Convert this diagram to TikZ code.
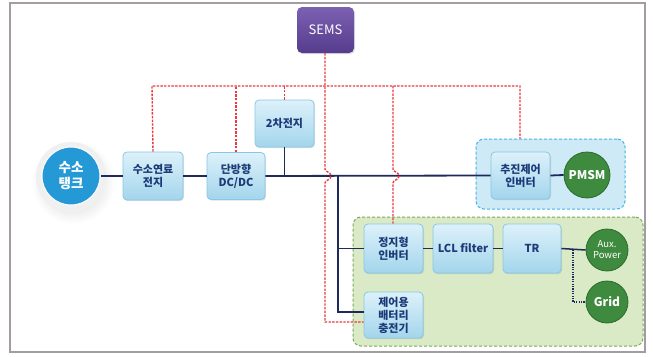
\documentclass[tikz,border=0pt]{standalone}
\usepackage{fontspec}
\newfontfamily\kr{Noto Sans CJK KR}
\usetikzlibrary{shadows}
\definecolor{navy}{HTML}{1F2A5C}
\definecolor{ctrlred}{HTML}{EC3A40}
\definecolor{boxtop}{HTML}{DDF1FA}
\definecolor{boxbot}{HTML}{A3D5EC}
\definecolor{boxedge}{HTML}{86C8E6}
\definecolor{txtblue}{HTML}{1B3A78}
\definecolor{tankblue}{HTML}{2598D6}
\definecolor{motgreen}{HTML}{3E8A3E}
\definecolor{motedge}{HTML}{2C6B2C}
\definecolor{propfill}{HTML}{CDEAF6}
\definecolor{propedge}{HTML}{3FB4E6}
\definecolor{gridfill}{HTML}{DAEAC6}
\definecolor{gridedge}{HTML}{78A95A}
\definecolor{framegray}{HTML}{A39DA3}
\definecolor{semstop}{HTML}{7C60B2}
\definecolor{semsbot}{HTML}{563C8C}
\tikzset{
  boxnode/.style={rounded corners=4pt, draw=boxedge, line width=0.8pt,
    top color=boxtop, bottom color=boxbot, text=txtblue, align=center,
    inner sep=0pt, font=\kr\bfseries\fontsize{11}{13}\selectfont,
    drop shadow={opacity=0.25, shadow xshift=1pt, shadow yshift=-1.2pt}},
  motor/.style={circle, fill=motgreen, draw=motedge, line width=0.8pt, text=white,
    align=center, inner sep=0pt, font=\kr\bfseries\fontsize{12}{13}\selectfont},
  bus/.style={draw=navy, line width=1.8pt},
  ctrl/.style={draw=ctrlred, line width=1.4pt, dash pattern=on 2.4pt off 1.3pt},
  region/.style={rounded corners=8pt, line width=1pt, dash pattern=on 3pt off 2pt}
}
\begin{document}
\begin{tikzpicture}[x=1pt,y=-1pt]
\useasboundingbox (0,0) rectangle (653,356);
\fill[white] (0,0) rectangle (653,356);
\draw[framegray, line width=1.5pt] (10,3) rectangle (645,352);

% regions
\node[region, draw=propedge, fill=propfill, minimum width=149pt, minimum height=70pt] (prop) at (550.5,174) {};
\node[region, draw=gridedge, fill=gridfill, minimum width=290pt, minimum height=129pt] (acgrid) at (498,281.5) {};

% tank halo and tank
\shade[inner color=gray!45, outer color=white] (73,182) circle (42);
\fill[gray!12] (71,177) circle (35);
\node[circle, fill=tankblue, draw=white, line width=1pt, minimum size=58pt, inner sep=0pt,
  text=white, align=center, font=\kr\bfseries\fontsize{13.5}{16}\selectfont] (tank) at (71,176) {수소\\탱크};

% boxes
\node[boxnode, minimum width=60pt, minimum height=48pt] (fc) at (153,176) {수소연료\\전지};
\node[boxnode, minimum width=58pt, minimum height=47pt] (dcdc) at (236,176) {단방향\\DC/DC};
\node[boxnode, minimum width=59pt, minimum height=47pt] (batt) at (284.5,123.5) {2차전지};
\node[boxnode, minimum width=59pt, minimum height=47pt] (inv) at (520.5,175.5) {추진제어\\인버터};
\node[boxnode, minimum width=59pt, minimum height=49pt] (sinv) at (393.5,248.5) {정지형\\인버터};
\node[boxnode, minimum width=60pt, minimum height=49pt] (lcl) at (463,248.5) {LCL filter};
\node[boxnode, minimum width=58pt, minimum height=49pt] (tr) at (532,248.5) {TR};
\node[boxnode, minimum width=59pt, minimum height=46pt] (chg) at (393.5,315) {제어용\\배터리\\충전기};
\node[rounded corners=5pt, minimum width=57pt, minimum height=46pt,
  top color=semstop, bottom color=semsbot,
  text=white, font=\kr\fontsize{13}{15}\selectfont, inner sep=0pt,
  drop shadow={opacity=0.25, shadow xshift=1pt, shadow yshift=-1.2pt}] (sems) at (325.5,30) {SEMS};

% motors / loads
\node[motor, minimum size=46pt] (pmsm) at (587,175) {PMSM};
\node[motor, minimum size=42pt, font=\kr\fontsize{9.5}{11}\selectfont] (aux) at (607,250) {Aux.\\Power};
\node[motor, minimum size=42pt] (grid) at (607,302) {Grid};

% DC bus
\coordinate (jb) at (284.5,176);
\coordinate (jv) at (338,176);
\coordinate (jc) at (338,312);
\draw[bus] (tank.east) -- (fc.west);
\draw[bus] (fc.east) -- (dcdc.west);
\draw[bus] (dcdc.east) -- (inv.west);
\draw[bus] (inv.east) -- (pmsm.west);
\draw[bus] (batt.south) -- (jb);
\draw[bus] (jv) -- (jc) -- (jc -| chg.west);
\draw[bus] (sinv.west -| jv) -- (sinv.west);
\draw[bus, line width=1.5pt] (sinv.east) -- (lcl.west);
\draw[bus, line width=1.5pt] (lcl.east) -- (tr.west);
\draw[bus, line width=1.5pt] (tr.east) -- (aux.west);
\coordinate (jd) at (573,250);
\draw[navy, line width=1.4pt, dash pattern=on 1.2pt off 1.2pt] (jd) |- (grid.west);

% control lines
\coordinate (ct1) at (152,86);
\coordinate (ct2) at (520,86);
\coordinate (ct3) at (393,86);
\draw[ctrl] (fc.north) -- (ct1) -- (ct2) -- (ct2 |- prop.north);
\draw[ctrl] (dcdc.north) -- (dcdc.north |- ct1);
\draw[ctrl] (batt.north) -- (batt.north |- ct1);
\coordinate (cs) at (325,322);
\draw[ctrl] (sems.south -| cs) -- (325,169) .. controls (325,172) and (331,172) .. (331,176)
  .. controls (331,180) and (325,180) .. (325,183) -- (cs) -- (cs -| chg.west);
\draw[ctrl] (ct3) -- (393,169) .. controls (393,172) and (399,172) .. (399,176)
  .. controls (399,180) and (393,180) .. (393,183) -- (sinv.north -| ct3);
\end{tikzpicture}
\end{document}
